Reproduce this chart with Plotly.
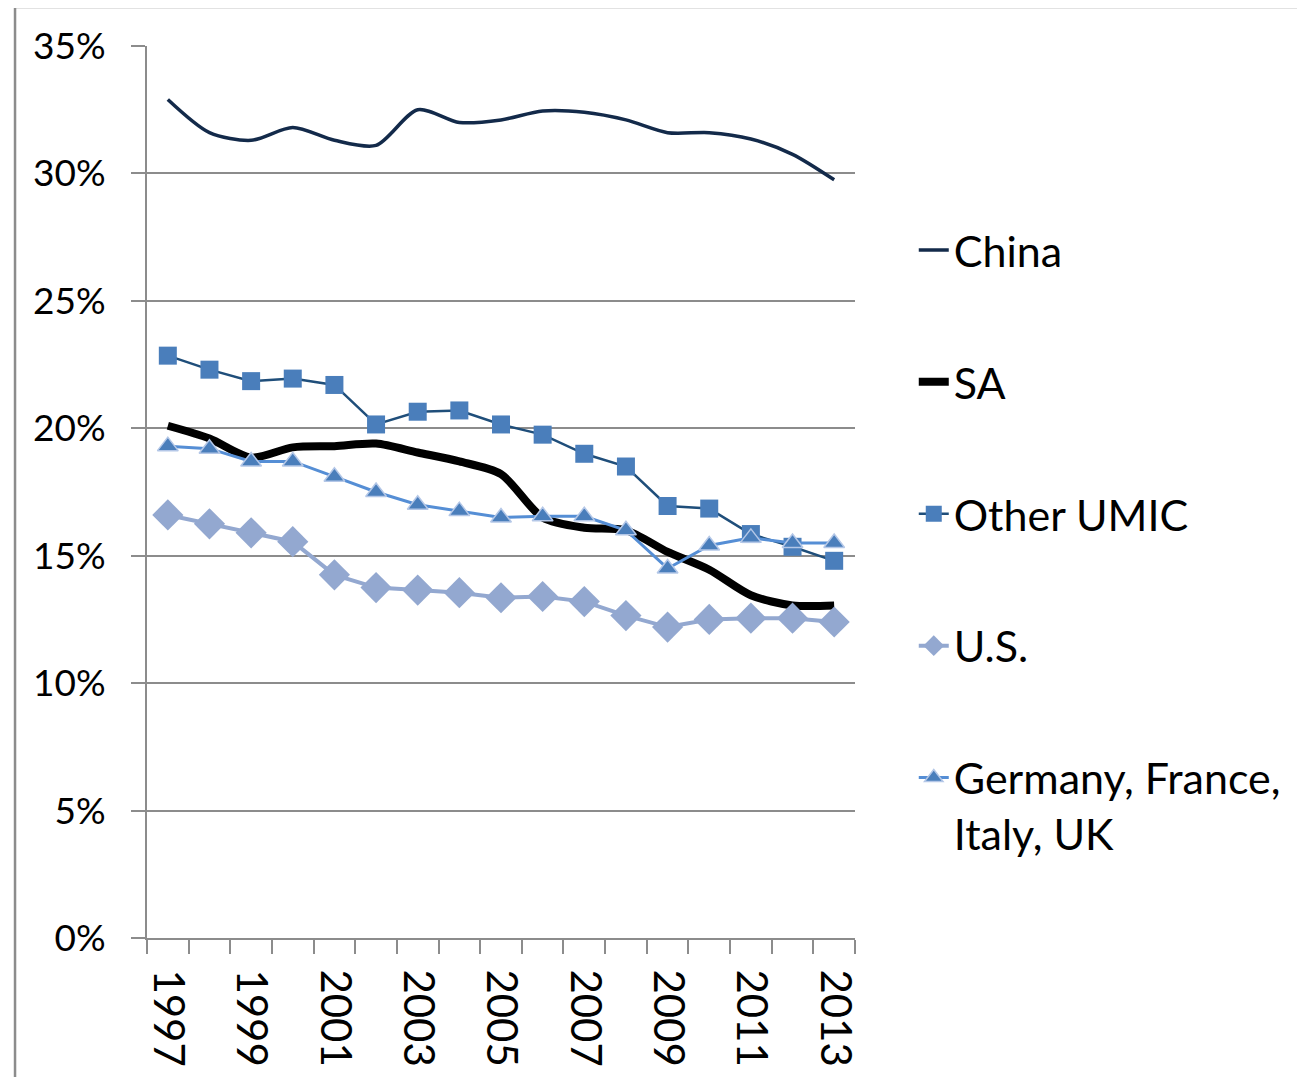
import plotly.graph_objects as go

years = list(range(1997, 2014))
china = [32.9, 31.6, 31.3, 31.8, 31.3, 31.1, 32.5, 32.0, 32.1, 32.45, 32.4, 32.1, 31.6, 31.6, 31.35, 30.75, 29.75]
sa = [20.1, 19.6, 18.85, 19.25, 19.3, 19.4, 19.05, 18.7, 18.2, 16.5, 16.1, 16.0, 15.15, 14.45, 13.45, 13.05, 13.05]
other_umic = [22.85, 22.3, 21.85, 21.95, 21.7, 20.15, 20.65, 20.7, 20.15, 19.75, 19.0, 18.5, 16.95, 16.85, 15.85, 15.35, 14.8]
us = [16.6, 16.25, 15.9, 15.55, 14.25, 13.75, 13.65, 13.55, 13.35, 13.4, 13.2, 12.65, 12.2, 12.5, 12.55, 12.55, 12.4]
g4 = [19.3, 19.2, 18.7, 18.7, 18.1, 17.5, 17.0, 16.75, 16.5, 16.55, 16.55, 16.0, 14.5, 15.4, 15.7, 15.5, 15.5]
label_years = [y for y in years if y % 2 == 1]

def pct(vals):
    return [v / 100 for v in vals]

fig = go.Figure()
fig.add_trace(go.Scatter(x=years, y=pct(china), name="China", mode="lines",
                         line=dict(color="#132a4a", width=3.5, shape="spline", smoothing=0.8),
                         legendgroup="a"))
fig.add_trace(go.Scatter(x=years, y=pct(sa), name="SA", mode="lines",
                         line=dict(color="#000000", width=8, shape="spline", smoothing=0.8),
                         legendgroup="b"))
fig.add_trace(go.Scatter(x=years, y=pct(other_umic), name="Other UMIC", mode="lines+markers",
                         line=dict(color="#1f4e7a", width=2.5),
                         marker=dict(symbol="square", size=18, color="#4a7ebb"),
                         legendgroup="c"))
fig.add_trace(go.Scatter(x=years, y=pct(us), name="U.S.", mode="lines+markers",
                         line=dict(color="#93a8d0", width=4),
                         marker=dict(symbol="diamond", size=24, color="#93a8d0"),
                         legendgroup="d"))
fig.add_trace(go.Scatter(x=years, y=pct(g4), name="Germany, France,<br>Italy, UK", mode="lines+markers",
                         line=dict(color="#558ed5", width=3),
                         marker=dict(symbol="triangle-up", size=18, color="#4a7ebb",
                                     line=dict(color="#b4c7e7", width=1.5)),
                         legendgroup="e"))

# outer frame of the chart area
fig.add_shape(type="rect", xref="paper", yref="paper",
              x0=-0.1864, x1=2, y0=-1, y1=1.0437,
              line=dict(color="#8c8c8c", width=2.5), fillcolor="rgba(0,0,0,0)")

# page body adds 8px, so margins are trimmed by that much
fig.update_layout(
    width=1305, height=1077,
    margin=dict(l=139, r=458, t=38, b=147),
    paper_bgcolor="white", plot_bgcolor="white",
    font=dict(family="Lato, Open Sans, sans-serif", color="black"),
    showlegend=True,
    legend=dict(x=1.083, y=0.81, xanchor="left", yanchor="top",
                font=dict(size=43, color="black"), tracegroupgap=73,
                valign="top", itemwidth=30, bgcolor="rgba(0,0,0,0)"),
    xaxis=dict(range=[1996.5, 2013.5], tickmode="array", tickvals=label_years,
               ticktext=[str(y) for y in label_years], tickangle=90,
               tickfont=dict(size=42), ticks="", ticklabelstandoff=21,
               showgrid=False, showline=True, linecolor="#8c8c8c", linewidth=2,
               minor=dict(ticks="outside", ticklen=14, tickcolor="#8c8c8c", tickwidth=2,
                          tick0=1996.5, dtick=1, showgrid=False),
               zeroline=False),
    yaxis=dict(range=[0, 0.35], dtick=0.05, tickformat=".0%",
               tickfont=dict(size=37), ticks="outside", ticklen=14,
               tickcolor="#8c8c8c", tickwidth=2, ticklabelstandoff=18,
               showgrid=True, gridcolor="#8c8c8c", gridwidth=2,
               showline=True, linecolor="#8c8c8c", linewidth=2, zeroline=False),
)

fig.write_html("out.html")
